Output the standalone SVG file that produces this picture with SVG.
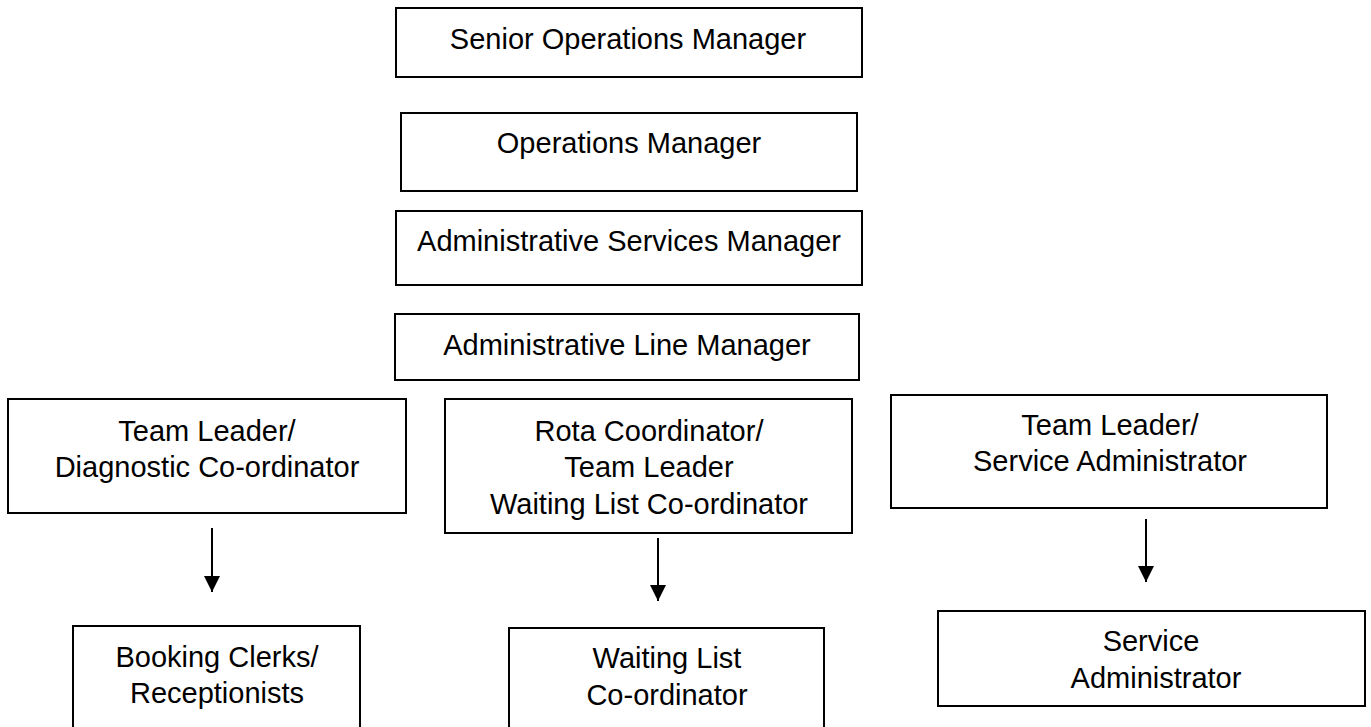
<svg xmlns="http://www.w3.org/2000/svg" width="1371" height="727" viewBox="0 0 1371 727">
<style>
.box{fill:#fff;stroke:#000;stroke-width:2}
text{font-family:"Liberation Sans",Arial,sans-serif;font-size:29px;fill:#000;text-anchor:middle}
.conn{stroke:#000;stroke-width:2;fill:none}
</style>
<defs>
<marker id="ah" viewBox="0 0 16 16" refX="16" refY="8" markerWidth="16" markerHeight="16" markerUnits="userSpaceOnUse" orient="auto">
<path d="M0,0 L16,8 L0,16 Z" fill="#000"/>
</marker>
</defs>
<rect width="1371" height="727" fill="#fff"/>
<g id="senior-ops-manager">
<rect class="box" x="396" y="8" width="466" height="69"/>
<text x="628" y="49">Senior Operations Manager</text>
</g>
<g id="ops-manager">
<rect class="box" x="401" y="113" width="456" height="78"/>
<text x="629" y="153">Operations Manager</text>
</g>
<g id="admin-services-manager">
<rect class="box" x="396" y="211" width="466" height="74"/>
<text x="629" y="251">Administrative Services Manager</text>
</g>
<g id="admin-line-manager">
<rect class="box" x="395" y="314" width="464" height="66"/>
<text x="627" y="355">Administrative Line Manager</text>
</g>
<g id="tl-diagnostic">
<rect class="box" x="8" y="399" width="398" height="114"/>
<text x="207" y="441">Team Leader/</text>
<text x="207" y="477">Diagnostic Co-ordinator</text>
</g>
<g id="rota-coordinator">
<rect class="box" x="445" y="399" width="407" height="134"/>
<text x="649" y="441">Rota Coordinator/</text>
<text x="649" y="477">Team Leader</text>
<text x="649" y="514">Waiting List Co-ordinator</text>
</g>
<g id="tl-service-admin">
<rect class="box" x="891" y="395" width="436" height="113"/>
<text x="1110" y="435">Team Leader/</text>
<text x="1110" y="471">Service Administrator</text>
</g>
<g id="booking-clerks">
<rect class="box" x="73" y="626" width="287" height="120"/>
<text x="217" y="667">Booking Clerks/</text>
<text x="217" y="703">Receptionists</text>
</g>
<g id="waiting-list-coordinator">
<rect class="box" x="509" y="628" width="315" height="120"/>
<text x="667" y="668">Waiting List</text>
<text x="667" y="705">Co-ordinator</text>
</g>
<g id="service-administrator">
<rect class="box" x="938" y="611" width="427" height="95"/>
<text x="1151" y="651">Service</text>
<text x="1156" y="688">Administrator</text>
</g>
<g id="connectors">
<line class="conn" x1="212" y1="528" x2="212" y2="592" marker-end="url(#ah)"/>
<line class="conn" x1="658" y1="538" x2="658" y2="601" marker-end="url(#ah)"/>
<line class="conn" x1="1146" y1="519" x2="1146" y2="582" marker-end="url(#ah)"/>
</g>
</svg>
